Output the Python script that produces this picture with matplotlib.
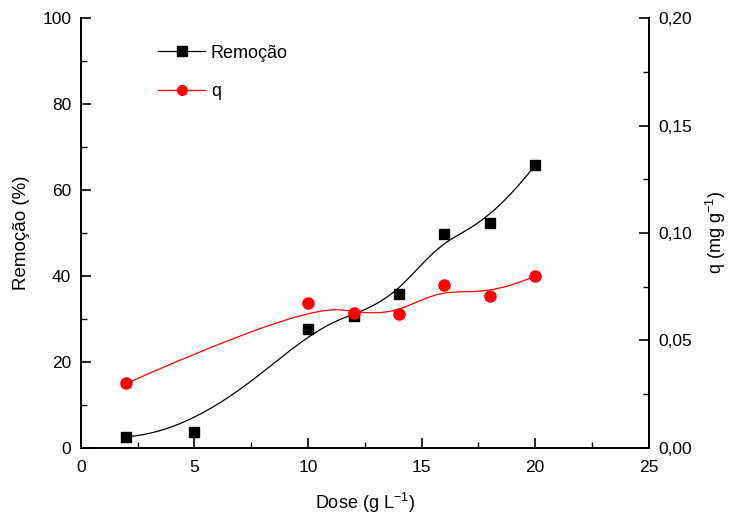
"""
Remoção e q em função da dose de adsorvente.
"""

import numpy as np
import matplotlib
matplotlib.use("Agg")
import matplotlib.pyplot as plt
from matplotlib.ticker import MultipleLocator, FuncFormatter

dose_rem = [2, 5, 10, 12, 14, 16, 18, 20]
remocao = [2.6, 3.7, 27.6, 30.8, 35.8, 49.8, 52.3, 65.8]

dose_q = [2, 10, 12, 14, 16, 18, 20]
q = [0.030, 0.0673, 0.0626, 0.0623, 0.0758, 0.0707, 0.080]


def bspline(xs, ys, k=3, n=400):
    """Curva B-spline cúbica (tipo Origin) com os pontos como controle."""
    P = np.column_stack([xs, ys]).astype(float)
    m = len(P)
    t = np.concatenate([np.zeros(k), np.linspace(0, 1, m - k + 1), np.ones(k)])
    pts = []
    for u in np.linspace(0, 1, n):
        i = min(np.searchsorted(t, u, side="right") - 1, m - 1)
        d = [P[j + i - k].copy() for j in range(k + 1)]
        for r in range(1, k + 1):
            for j in range(k, r - 1, -1):
                den = t[j + 1 + i - r] - t[j + i - k]
                a = 0.0 if den == 0 else (u - t[j + i - k]) / den
                d[j] = (1 - a) * d[j - 1] + a * d[j]
        pts.append(d[k])
    pts = np.array(pts)
    return pts[:, 0], pts[:, 1]


plt.rcParams["font.family"] = ["Liberation Sans", "DejaVu Sans"]

fig = plt.figure(figsize=(7.29, 5.16), dpi=100)
ax = fig.add_axes([0.111, 0.132, 0.779, 0.833])
ax2 = ax.twinx()

bx, by = bspline(dose_rem, remocao)
ax.plot(bx, by, color="black", lw=0.9)
ax.plot(dose_rem, remocao, "s", color="black", ms=7.5)

qx, qy = bspline(dose_q, q)
ax2.plot(qx, qy, color="red", lw=0.9)
ax2.plot(dose_q, q, "o", color="red", ms=8)

ax.set_xlim(0, 25)
ax.set_ylim(0, 100)
ax2.set_ylim(0, 0.20)

ax.xaxis.set_major_locator(MultipleLocator(5))
ax.xaxis.set_minor_locator(MultipleLocator(2.5))
ax.yaxis.set_major_locator(MultipleLocator(20))
ax.yaxis.set_minor_locator(MultipleLocator(10))
ax2.yaxis.set_major_locator(MultipleLocator(0.05))
ax2.yaxis.set_minor_locator(MultipleLocator(0.025))
ax2.yaxis.set_major_formatter(FuncFormatter(lambda v, p: f"{v:.2f}".replace(".", ",")))

for a in (ax, ax2):
    a.spines["top"].set_visible(False)
    for s in a.spines.values():
        s.set_linewidth(1.3)
    a.tick_params(which="major", direction="in", length=7, width=1.2,
                  labelsize=12.5, pad=7)
    a.tick_params(which="minor", direction="in", length=4, width=1.0)
ax.tick_params(axis="x", pad=9)

ax.set_xlabel("Dose (g L$^{\\mathregular{-1}}$)", fontsize=13, labelpad=11)
ax.set_ylabel("Remoção (%)", fontsize=13.5, labelpad=9)
ax2.set_ylabel("q (mg g$^{\\mathregular{-1}}$)", fontsize=13, labelpad=8)

h1 = plt.Line2D([], [], color="black", lw=0.9, marker="s", ms=7)
h2 = plt.Line2D([], [], color="red", lw=0.9, marker="o", ms=7)
ax2.legend([h1, h2], ["Remoção", "q"], loc="upper left",
           bbox_to_anchor=(0.195, 0.945), bbox_transform=fig.transFigure,
           frameon=False, fontsize=13, numpoints=1, handlelength=2.6,
           handletextpad=0.3, labelspacing=1.2)

fig.savefig("out.png", dpi=100)
